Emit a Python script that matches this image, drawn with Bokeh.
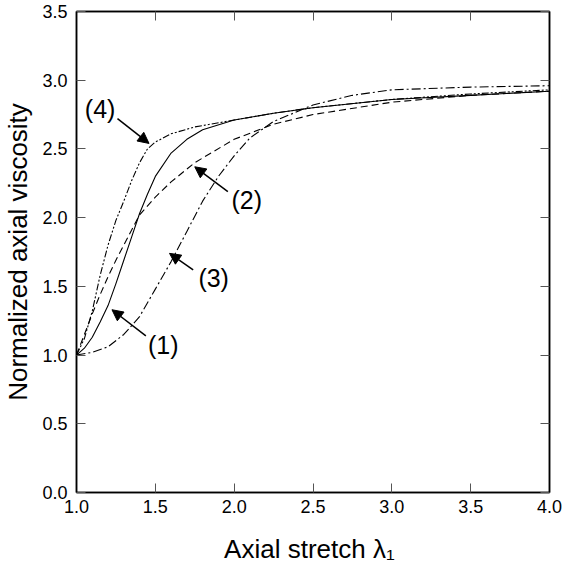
from bokeh.plotting import figure
from bokeh.models import (Range1d, LinearAxis, SingleIntervalTicker, Arrow, NormalHead,
                          ColumnDataSource, CustomJSTickFormatter, PrintfTickFormatter)
from bokeh.core.properties import value
from bokeh.embed import file_html
from bokeh.resources import INLINE

# Curve (1) solid
x1 = [1.0, 1.05, 1.1, 1.15, 1.2, 1.25, 1.3, 1.35, 1.4, 1.45, 1.5, 1.6, 1.7, 1.8, 2.0, 2.25, 2.5, 3.0, 3.5, 4.0]
y1 = [1.0, 1.05, 1.13, 1.24, 1.36, 1.52, 1.69, 1.86, 2.03, 2.17, 2.3, 2.47, 2.57, 2.64, 2.71, 2.76, 2.8, 2.86, 2.89, 2.92]
# Curve (2) dashed
x2 = [1.0, 1.05, 1.1, 1.15, 1.2, 1.25, 1.3, 1.4, 1.5, 1.6, 1.75, 2.0, 2.25, 2.5, 3.0, 3.5, 4.0]
y2 = [1.0, 1.15, 1.3, 1.44, 1.57, 1.69, 1.8, 2.02, 2.15, 2.26, 2.4, 2.57, 2.68, 2.75, 2.84, 2.89, 2.92]
# Curve (3) dash-dot
x3 = [1.0, 1.1, 1.2, 1.3, 1.4, 1.5, 1.6, 1.7, 1.8, 1.9, 2.0, 2.1, 2.25, 2.5, 2.75, 3.0, 3.5, 4.0]
y3 = [1.0, 1.02, 1.06, 1.15, 1.28, 1.48, 1.68, 1.9, 2.12, 2.3, 2.45, 2.58, 2.7, 2.82, 2.89, 2.93, 2.95, 2.96]
# Curve (4) dash-dot-dot
x4 = [1.0, 1.05, 1.1, 1.15, 1.2, 1.25, 1.3, 1.35, 1.4, 1.45, 1.5, 1.6, 1.75, 2.0, 2.25, 2.5, 3.0, 3.5, 4.0]
y4 = [1.0, 1.12, 1.32, 1.58, 1.8, 1.98, 2.12, 2.27, 2.4, 2.5, 2.55, 2.61, 2.66, 2.71, 2.76, 2.8, 2.86, 2.9, 2.93]

# Curve labels and arrows (label position, arrow tail, arrow head)
label_text = ["(1)", "(2)", "(3)", "(4)"]
label_x = [1.55, 2.08, 1.87, 1.15]
label_y = [1.07, 2.13, 1.56, 2.79]
tail_x = [1.44, 1.96, 1.74, 1.26]
tail_y = [1.14, 2.19, 1.62, 2.72]
head_x = [1.225, 1.75, 1.59, 1.46]
head_y = [1.33, 2.37, 1.74, 2.54]

FONT = "Liberation Sans"

p = figure(width=562, height=566, output_backend="svg", toolbar_location=None,
           x_range=Range1d(1.0, 4.0), y_range=Range1d(0.0, 3.5),
           min_border_left=0, min_border_right=13, min_border_top=11, min_border_bottom=0)
p.grid.visible = False
p.outline_line_color = "black"
p.outline_line_width = 1.5

for ax in (p.xaxis[0], p.yaxis[0]):
    ax.ticker = SingleIntervalTicker(interval=0.5)
    ax.formatter = PrintfTickFormatter(format="%.1f")
    ax.minor_tick_line_color = None
    ax.major_tick_in = 9
    ax.major_tick_out = 0
    ax.major_tick_line_color = "#555555"
    ax.axis_line_color = "black"
    ax.axis_line_width = 1.5
    ax.major_label_text_font = FONT
    ax.major_label_text_font_size = "18px"
    ax.major_label_text_color = "black"
    ax.axis_label_text_font = FONT
    ax.axis_label_text_font_size = "26px"
    ax.axis_label_text_font_style = "normal"
    ax.axis_label_text_color = "black"

p.xaxis[0].axis_label = "Axial stretch  λ₁"
p.xaxis[0].major_label_standoff = 3
p.xaxis[0].axis_label_standoff = 18
p.yaxis[0].axis_label = "Normalized axial viscosity"
p.yaxis[0].major_label_standoff = 5
p.yaxis[0].axis_label_standoff = 6

for loc in ("right", "above"):
    ax = LinearAxis(ticker=SingleIntervalTicker(interval=0.5),
                    formatter=CustomJSTickFormatter(code="return ''"))
    ax.minor_tick_line_color = None
    ax.major_tick_in = 9
    ax.major_tick_out = 0
    ax.major_tick_line_color = "#555555"
    ax.axis_line_color = "black"
    ax.axis_line_width = 1.5
    ax.major_label_standoff = 0
    p.add_layout(ax, loc)

p.line(x1, y1, line_color="black", line_width=1.1)
p.line(x2, y2, line_color="black", line_width=1.1, line_dash="7 4")
p.line(x3, y3, line_color="black", line_width=1.1, line_dash="9 3 2 3")
p.line(x4, y4, line_color="black", line_width=1.1, line_dash="7 2 2 2 2 2")

for i in range(4):
    p.add_layout(Arrow(end=NormalHead(size=11, fill_color="black", line_color="black"),
                       x_start=tail_x[i], y_start=tail_y[i], x_end=head_x[i], y_end=head_y[i],
                       line_color="black", line_width=1.5))

src = ColumnDataSource(dict(x=label_x, y=label_y, t=label_text))
p.text(x="x", y="y", text="t", source=src, text_font=value(FONT), text_font_size="25px",
       text_align="center", text_baseline="middle", text_color="black")

open("out.html", "w").write(file_html(p, INLINE))
